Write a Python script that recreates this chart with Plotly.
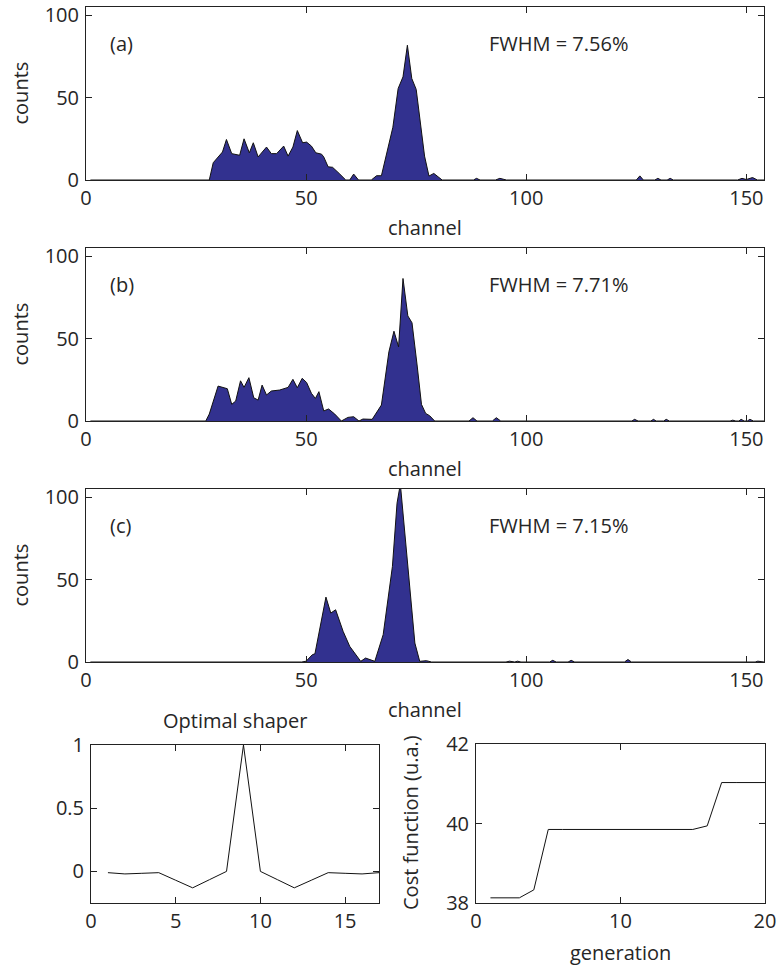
import plotly.graph_objects as go

# ---------------- data ----------------
a_channel = [1, 28.0, 28.9, 31.0, 31.9, 33.1, 34.9, 35.9, 37.1, 38.0, 39.1, 41.0, 42.1, 43.3, 44.9,
             45.9, 47.0, 48.0, 49.2, 50.1, 51.2, 52.2, 53.5, 54.0, 55.0, 56.0, 57.5, 59.0, 59.9,
             60.8, 61.9, 64.8, 66.0, 67.1, 69.7, 70.9, 72.0, 73.0, 74.0, 75.0, 76.9, 77.9, 79.0,
             80.9, 88.0, 88.7, 89.5, 93.0, 94.0, 95.5, 125.0, 125.8, 126.6, 129.2, 129.9, 130.6,
             132.0, 132.7, 133.4, 148.0, 149.0, 150.0, 151.4, 152.5, 154]
a_counts = [0, 0, 10.5, 17, 24.6, 16, 15, 25, 16.5, 22.6, 14, 20, 16, 16, 20.6,
            14.5, 20, 30, 22.6, 23, 20.6, 16.5, 15.7, 14, 8, 7.7, 4, 0, 0,
            3.6, 0, 0, 2.6, 2.6, 32, 55.5, 62.6, 81.8, 61.6, 55, 14.5, 2.4, 4,
            0, 0, 1, 0, 0, 1, 0, 0, 2.5, 0, 0, 1, 0,
            0, 1, 0, 0, 1, 0.3, 1.5, 0, 0]

b_channel = [1, 27.2, 28.0, 30.0, 32.1, 33.1, 34.0, 35.1, 35.9, 37.0, 38.1, 39.1, 40.0, 41.0, 42.1,
             44.0, 45.9, 47.0, 48.0, 49.1, 50.1, 51.2, 52.1, 52.9, 54.0, 55.1, 56.5, 58.0, 59.5,
             60.8, 62.0, 62.9, 65.0, 67.1, 68.8, 69.95, 71.0, 72.0, 73.1, 74.05, 75.2, 76.2, 77.15,
             78.06, 79.2, 87.0, 87.9, 88.8, 92.3, 93.2, 94.2, 124.0, 124.6, 125.4, 128.3, 128.9,
             129.5, 131.2, 131.8, 132.5, 146.3, 146.9, 147.6, 148.3, 148.8, 149.5, 150.2, 150.8,
             151.6, 154]
b_counts = [0, 0, 4.2, 21.2, 19.6, 10.1, 12.1, 24.4, 20.4, 26.3, 14.1, 12.7, 21.8, 15.8, 18.2,
            18.8, 20.4, 25.3, 20.2, 25.9, 23.4, 16.8, 13.7, 17.8, 6.1, 7.3, 4.2, 0, 2.2,
            2.6, 0, 1.2, 1, 9.7, 42, 54.5, 45, 86.5, 63.8, 59.6, 34, 10.1, 4.6,
            3.2, 0, 0, 2, 0, 0, 2, 0, 0, 1, 0, 0, 1,
            0, 0, 1, 0, 0, 0.5, 0, 0, 1, 0, 0, 1,
            0, 0]

c_channel = [1, 49.0, 50.0, 51.4, 52.0, 54.5, 55.6, 56.7, 58.4, 59.9, 62.4, 63.5, 65.6, 67.5, 69.6,
             70.65, 71.4, 72.8, 74.7, 75.8, 77.3, 78.5, 95.4, 96.2, 97.0, 97.4, 98.0, 98.8,
             105.3, 106.0, 106.8, 109.5, 110.2, 111.0, 122.3, 123.1, 123.9, 152.0, 152.6, 154]
c_counts = [0, 0, 0.5, 4.4, 5, 39.4, 29.7, 31.7, 18.6, 9.5, 0.4, 2.4, 0.4, 16.6, 58,
            96.4, 108, 65, 11.5, 0.4, 0.8, 0, 0, 0.5, 0, 0, 0.5, 0,
            0, 1, 0, 0, 1, 0, 0, 1.5, 0, 0, 0.5, 0]

shaper_x = [1, 2, 3, 4, 5, 6, 7, 8, 9, 10, 11, 12, 13, 14, 15, 16, 17]
shaper_y = [-0.01, -0.02, -0.015, -0.01, -0.07, -0.13, -0.065, 0.0, 1.0, 0.0, -0.065, -0.13,
            -0.07, -0.01, -0.015, -0.02, -0.01]

generation = [1, 2, 3, 4, 5, 6, 7, 8, 9, 10, 11, 12, 13, 14, 15, 16, 17, 18, 19, 20]
cost = [38.13, 38.13, 38.13, 38.33, 39.85, 39.85, 39.85, 39.85, 39.85, 39.85, 39.85, 39.85,
        39.85, 39.85, 39.85, 39.94, 41.03, 41.03, 41.03, 41.03]

panel_labels = ["(a)", "(b)", "(c)"]
fwhm_labels = ["FWHM = 7.56%", "FWHM = 7.71%", "FWHM = 7.15%"]
hist_xticks = [0, 50, 100, 150]
hist_yticks = [0, 50, 100]

# ---------------- figure ----------------
W, H = 778, 965
FONT = "Open Sans"
TXT = "#262626"
FILL = "#32318f"


def px(xp):
    return xp / W


def py(yp):
    return 1 - yp / H


fig = go.Figure()

hist_sets = [(a_channel, a_counts), (b_channel, b_counts), (c_channel, c_counts)]
hist_tops = [7, 248, 489]
hist_h = 173
x_left, x_right = 86, 764

axis_common = dict(showgrid=False, zeroline=False, showline=True, linecolor="#222222", linewidth=1,
                   mirror="allticks", ticks="inside", ticklen=6, tickwidth=1, tickcolor="#222222",
                   automargin=False,
                   tickfont=dict(family=FONT, size=20, color=TXT))

annotations = []
for i, (ch, cnt) in enumerate(hist_sets):
    n = i + 1
    xa = "x" if n == 1 else f"x{n}"
    ya = "y" if n == 1 else f"y{n}"
    fig.add_trace(go.Scatter(x=ch, y=cnt, mode="lines", fill="tozeroy",
                             fillcolor=FILL, line=dict(color="#111111", width=1),
                             xaxis=xa, yaxis=ya, showlegend=False))
    top = hist_tops[i]
    bot = top + hist_h
    xkey = "xaxis" if n == 1 else f"xaxis{n}"
    ykey = "yaxis" if n == 1 else f"yaxis{n}"
    fig.update_layout(**{
        xkey: dict(domain=[px(x_left), px(x_right)], range=[0, 154], anchor=ya,
                   tickvals=hist_xticks, **axis_common),
        ykey: dict(domain=[py(bot), py(top)], range=[0, 105], anchor=xa,
                   tickvals=hist_yticks, ticklabelstandoff=2, **axis_common),
    })
    annotations.append(dict(x=5, y=83, xref=xa, yref=ya, text=panel_labels[i], showarrow=False,
                            xanchor="left", yanchor="middle",
                            font=dict(family=FONT, size=20, color=TXT)))
    annotations.append(dict(x=91, y=83, xref=xa, yref=ya, text=fwhm_labels[i], showarrow=False,
                            xanchor="left", yanchor="middle",
                            font=dict(family=FONT, size=20, color=TXT)))
    annotations.append(dict(x=px((x_left + x_right) / 2), y=py(bot + 47), xref="paper", yref="paper",
                            text="channel", showarrow=False, xanchor="center", yanchor="middle",
                            font=dict(family=FONT, size=20, color=TXT)))
    annotations.append(dict(x=px(20), y=py((top + bot) / 2), xref="paper", yref="paper",
                            text="counts", showarrow=False, textangle=-90,
                            xanchor="center", yanchor="middle",
                            font=dict(family=FONT, size=20, color=TXT)))

# bottom-left: optimal shaper
fig.add_trace(go.Scatter(x=shaper_x, y=shaper_y, mode="lines", line=dict(color="#111111", width=1),
                         xaxis="x4", yaxis="y4", showlegend=False))
fig.update_layout(
    xaxis4=dict(domain=[px(91), px(379)], range=[0, 17], anchor="y4", tickvals=[0, 5, 10, 15],
                **axis_common),
    yaxis4=dict(domain=[py(903), py(745)], range=[-0.25, 1], anchor="x4", tickvals=[0, 0.5, 1],
                ticktext=["0", "0.5", "1"], ticklabelstandoff=2, **axis_common),
)
annotations.append(dict(x=px(235), y=py(720), xref="paper", yref="paper", text="Optimal shaper",
                        showarrow=False, xanchor="center", yanchor="middle",
                        font=dict(family=FONT, size=20, color=TXT)))

# bottom-right: cost function
fig.add_trace(go.Scatter(x=generation, y=cost, mode="lines", line=dict(color="#111111", width=1),
                         xaxis="x5", yaxis="y5", showlegend=False))
fig.update_layout(
    xaxis5=dict(domain=[px(476), px(765)], range=[0, 20], anchor="y5", tickvals=[0, 10, 20],
                **axis_common),
    yaxis5=dict(domain=[py(903), py(744)], range=[38, 42], anchor="x5", tickvals=[38, 40, 42],
                ticklabelstandoff=2, **axis_common),
)
annotations.append(dict(x=px(620), y=py(952), xref="paper", yref="paper", text="generation",
                        showarrow=False, xanchor="center", yanchor="middle",
                        font=dict(family=FONT, size=20, color=TXT)))
annotations.append(dict(x=px(410), y=py(823), xref="paper", yref="paper", text="Cost function (u.a.)",
                        showarrow=False, textangle=-90, xanchor="center", yanchor="middle",
                        font=dict(family=FONT, size=20, color=TXT)))

fig.update_layout(width=W, height=H, margin=dict(l=0, r=0, t=0, b=0, pad=0, autoexpand=False),
                  paper_bgcolor="white", plot_bgcolor="white",
                  annotations=annotations, font=dict(family=FONT, size=20, color=TXT))

fig.write_html("out.html", config={"displayModeBar": False},
               post_script="document.body.style.margin='0';")
